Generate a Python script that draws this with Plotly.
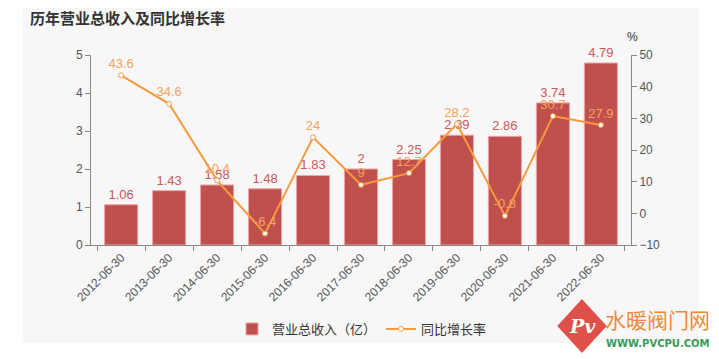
import plotly.graph_objects as go

dates = ["2012-06-30", "2013-06-30", "2014-06-30", "2015-06-30", "2016-06-30",
         "2017-06-30", "2018-06-30", "2019-06-30", "2020-06-30", "2021-06-30", "2022-06-30"]
revenue = [1.06, 1.43, 1.58, 1.48, 1.83, 2, 2.25, 2.89, 2.86, 3.74, 4.79]
growth = [43.6, 34.6, 10.4, -6.4, 24, 9, 12.7, 28.2, -0.8, 30.7, 27.9]

OFF = 8  # page body margin
W, H = 719 - OFF, 359 - OFF
L, R, T, B = 91 - OFF, 631 - OFF, 55 - OFF, 245 - OFF


def px(x):
    return (x - OFF - L) / (R - L)


def py(y):
    return (B - (y - OFF)) / (B - T)


FONT = "Liberation Sans, Arial, Noto Sans CJK SC, sans-serif"
CJK = "Noto Sans CJK SC, sans-serif"
BAR = "#c0504d"
LINE = "#f79a3e"

fig = go.Figure()
fig.add_trace(go.Bar(
    x=dates, y=revenue, name="营业总收入（亿）",
    marker=dict(color=BAR, line=dict(color="#e8a8a6", width=1)),
    text=[f"{v:g}" for v in revenue], textposition="outside",
    textfont=dict(color="#c9595a", size=13, family=FONT),
    cliponaxis=False, width=0.69,
))
fig.add_trace(go.Scatter(
    x=dates, y=growth, name="同比增长率", yaxis="y2",
    mode="lines+markers+text",
    line=dict(color=LINE, width=2),
    marker=dict(size=5, color="white", line=dict(color=LINE, width=1)),
    text=[f"{v:g}" for v in growth], textposition="top center",
    textfont=dict(color="#f5a25d", size=13, family=FONT),
    cliponaxis=False,
))

shapes = [
    dict(type="rect", xref="paper", yref="paper", layer="below",
         x0=px(23), x1=px(699), y0=py(343), y1=py(OFF),
         fillcolor="#f7f7f7", line=dict(width=0)),
    dict(type="path", xref="paper", yref="paper", layer="above",
         path=f"M {px(582)},{py(302)} L {px(604)},{py(326)} L {px(582)},{py(350)} L {px(560)},{py(326)} Z",
         fillcolor="#e0504a", line=dict(color="#e0504a", width=4)),
]

annotations = [
    dict(text="<b>历年营业总收入及同比增长率</b>", xref="paper", yref="paper",
         x=px(28), y=py(17), xanchor="left", yanchor="middle", showarrow=False,
         font=dict(size=15, color="#333333", family=CJK)),
    dict(text="%", xref="paper", yref="paper", x=px(632), y=py(37),
         xanchor="center", yanchor="middle", showarrow=False,
         font=dict(size=12, color="#333333", family=FONT)),
    dict(text="<i><b>Pv</b></i>", xref="paper", yref="paper", x=px(582), y=py(326),
         xanchor="center", yanchor="middle", showarrow=False,
         font=dict(size=19, color="white", family="DejaVu Serif")),
    dict(text="水暖阀门网", xref="paper", yref="paper", x=px(603), y=py(319),
         xanchor="left", yanchor="middle", showarrow=False,
         font=dict(size=21, color="#f08a3a", family=CJK)),
    dict(text="<b>WWW.PVCPU.COM</b>", xref="paper", yref="paper", x=px(604), y=py(343),
         xanchor="left", yanchor="middle", showarrow=False,
         font=dict(size=10, color="#3a9a5a", family="DejaVu Sans")),
]

axis_common = dict(showgrid=False, zeroline=False, showline=True, linecolor="#888888",
                   linewidth=1, ticks="outside", ticklen=5, tickcolor="#888888",
                   tickfont=dict(size=12, color="#555555", family=FONT))

fig.update_layout(
    width=W, height=H,
    margin=dict(l=L, r=W - R, t=T, b=H - B, autoexpand=False),
    paper_bgcolor="white", plot_bgcolor="rgba(0,0,0,0)",
    font=dict(family=FONT, color="#333333"),
    bargap=0.31,
    xaxis=dict(**axis_common, tickangle=-45, tickson="boundaries", type="category"),
    yaxis=dict(**axis_common, range=[0, 5], dtick=1),
    yaxis2=dict(**axis_common, range=[-10, 50], dtick=10, overlaying="y", side="right"),
    legend=dict(orientation="h", x=px(362), xanchor="center", y=py(329), yanchor="middle",
                font=dict(size=13, color="#333333", family=CJK), bgcolor="rgba(0,0,0,0)",
                itemwidth=30, tracegroupgap=0),
    showlegend=True,
    shapes=shapes, annotations=annotations,
)

fig.write_html("out.html")
